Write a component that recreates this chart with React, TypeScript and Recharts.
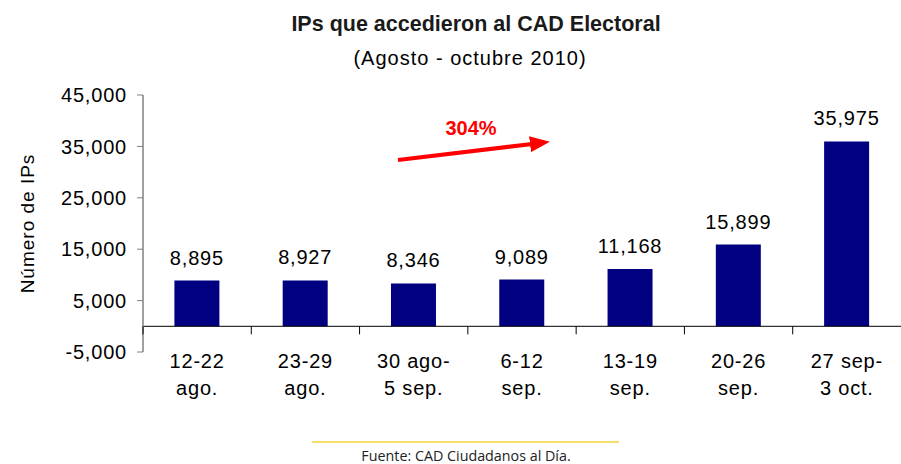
import { BarChart, Bar, XAxis, YAxis, ReferenceLine, LabelList } from 'recharts';

const categories = [
  ['12-22', 'ago.'],
  ['23-29', 'ago.'],
  ['30 ago-', '5 sep.'],
  ['6-12', 'sep.'],
  ['13-19', 'sep.'],
  ['20-26', 'sep.'],
  ['27 sep-', '3 oct.']
];
const ipCounts = [8895, 8927, 8346, 9089, 11168, 15899, 35975];
const yTicks = [-5000, 5000, 15000, 25000, 35000, 45000];
const yDomain = [-5000, 45000];

const title = 'IPs que accedieron al CAD Electoral';
const subtitle = '(Agosto - octubre 2010)';
const growthLabel = '304%';
const sourceNote = 'Fuente:  CAD Ciudadanos al Día.';

const W = 901;
const H = 464;
const PLOT_TOP = 95;
const PLOT_BOTTOM = 352;
const PLOT_LEFT = 143;
const X_AXIS_H = 60;

const FONT = '"Liberation Sans", Arial, sans-serif';
const BAR_COLOR = '#000080';
const TEXT_STYLE = { fill: '#000', fontSize: 20, fontFamily: FONT, letterSpacing: 0.8 };

const data = categories.map((c, i) => ({
  key: c.join(' '),
  line1: c[0],
  line2: c[1],
  value: ipCounts[i]
}));

const fmt = (v: number) => v.toLocaleString('en-US');

function CategoryTick(props: any) {
  const { x, payload, index } = props;
  const plotH = PLOT_BOTTOM - PLOT_TOP;
  const zeroY = PLOT_BOTTOM - ((0 - yDomain[0]) / (yDomain[1] - yDomain[0])) * plotH;
  const band = (W - PLOT_LEFT) / data.length;
  const row = data[index];
  return (
    <g>
      <line x1={x - band / 2} x2={x - band / 2} y1={zeroY} y2={zeroY + 8} stroke="#000" strokeWidth={1} />
      <text x={x} y={PLOT_BOTTOM + 16} textAnchor="middle" style={TEXT_STYLE}>
        <tspan x={x}>{row ? row.line1 : payload.value}</tspan>
        <tspan x={x} dy={27}>{row ? row.line2 : ''}</tspan>
      </text>
    </g>
  );
}

export default function App() {
  return (
    <div style={{ position: 'absolute', left: 0, top: 0, width: W, height: H, background: '#fff' }}>
      <BarChart
        width={W}
        height={H}
        data={data}
        margin={{ top: PLOT_TOP, right: 0, left: 0, bottom: H - PLOT_BOTTOM - X_AXIS_H }}
        barCategoryGap="29%"
      >
        <XAxis
          dataKey="key"
          height={X_AXIS_H}
          axisLine={false}
          tickLine={false}
          interval={0}
          tick={<CategoryTick />}
        />
        <YAxis
          width={PLOT_LEFT}
          domain={yDomain}
          ticks={yTicks}
          interval={0}
          allowDataOverflow
          axisLine={{ stroke: '#808080', strokeWidth: 1.5 }}
          tickLine={{ stroke: '#808080' }}
          tickSize={6}
          tickMargin={10}
          tickFormatter={fmt}
          tick={TEXT_STYLE}
          label={{
            value: 'Número de IPs',
            angle: -90,
            position: 'insideLeft',
            dx: 22,
            style: { ...TEXT_STYLE, fontSize: 19, letterSpacing: 1, textAnchor: 'middle' }
          }}
        />
        <ReferenceLine y={0} stroke="#000" strokeWidth={1} />
        <Bar dataKey="value" fill={BAR_COLOR} isAnimationActive={false}>
          <LabelList
            dataKey="value"
            position="top"
            offset={16}
            formatter={(v: any) => fmt(Number(v))}
            style={TEXT_STYLE}
          />
        </Bar>
      </BarChart>
      <svg width={W} height={H} style={{ position: 'absolute', left: 0, top: 0, pointerEvents: 'none' }}>
        <text x={476} y={31} textAnchor="middle" fontFamily={FONT} fontSize={21.5} fontWeight="bold" fill="#1a1a1a">
          {title}
        </text>
        <text x={470} y={65} textAnchor="middle" fontFamily={FONT} fontSize={20} letterSpacing={1} fill="#000">
          {subtitle}
        </text>
        <defs>
          <marker id="arrowHead" markerWidth="5" markerHeight="4" refX="0.5" refY="2" orient="auto">
            <path d="M0,0 L5,2 L0,4 Z" fill="#ff0000" />
          </marker>
        </defs>
        <line x1={398} y1={160} x2={532} y2={144} stroke="#ff0000" strokeWidth={4} markerEnd="url(#arrowHead)" />
        <text x={471} y={135} textAnchor="middle" fontFamily={FONT} fontSize={20} fontWeight="bold" fill="#ff0000">
          {growthLabel}
        </text>
        <line x1={312} x2={619} y1={442} y2={442} stroke="#f5d33a" strokeWidth={1.5} />
        <text x={466} y={461} textAnchor="middle" fontFamily='"Open Sans", "Noto Sans", sans-serif' fontSize={14.3} fill="#222">
          {sourceNote}
        </text>
      </svg>
    </div>
  );
}
